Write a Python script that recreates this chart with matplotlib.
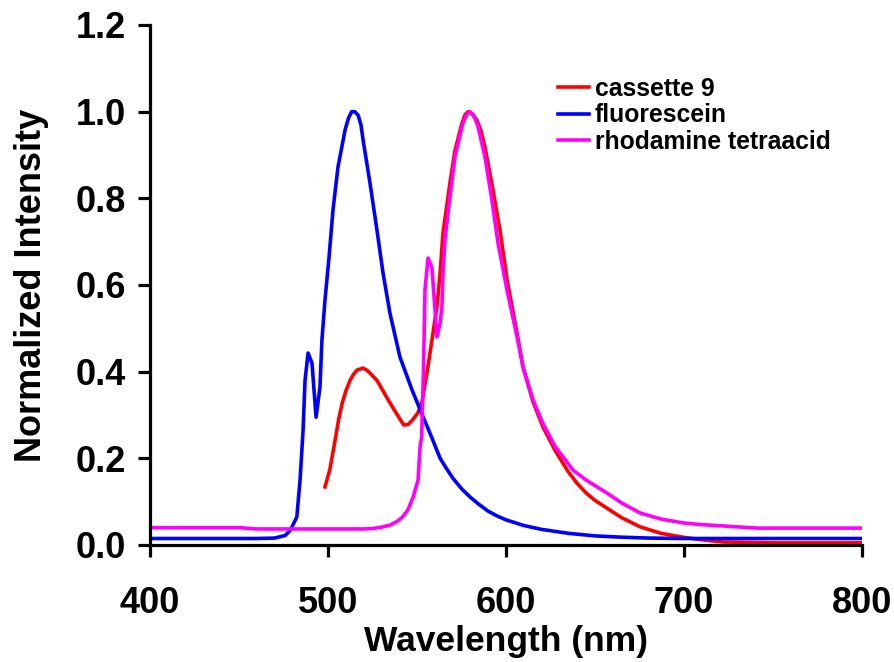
import matplotlib
matplotlib.use('Agg')
import matplotlib.pyplot as plt

# wavelengths (nm) and normalized intensities
fluor_wl = [400, 430, 460, 470, 476, 479, 482.5, 484.3, 486, 487.1, 488.8, 491,
            493.3, 495.5, 496.6, 498.3, 500.6, 502.8, 505.6, 509.6, 511.5, 513.3,
            515, 516.9, 518.5, 519.7, 523.6, 527.5, 530.9, 534.8, 540.4, 547.2,
            552, 558.4, 563, 566, 570, 575, 580, 585, 590, 595, 600, 610, 620,
            635, 650, 665, 680, 700, 750, 800]
fluor_int = [0.015, 0.015, 0.015, 0.016, 0.022, 0.035, 0.065, 0.15, 0.265, 0.38,
             0.443, 0.42, 0.295, 0.365, 0.473, 0.565, 0.665, 0.773, 0.872, 0.958,
             0.985, 1.0, 1.0, 0.992, 0.97, 0.935, 0.835, 0.727, 0.628, 0.535,
             0.434, 0.358, 0.31, 0.247, 0.2, 0.18, 0.155, 0.13, 0.11, 0.093,
             0.078, 0.067, 0.058, 0.045, 0.036, 0.027, 0.021, 0.018, 0.016,
             0.015, 0.015, 0.015]

cass_wl = [498.3, 501, 504, 506, 508, 510, 512.4, 514.5, 516.5, 519.7, 522,
           524.5, 527.5, 531, 534.8, 539, 542.5, 545, 547.8, 550.5, 552.8, 555.6,
           558.4, 561.2, 563, 564.6, 568.5, 571.3, 575.3, 577, 578.7, 581, 583.7,
           586, 588.2, 592.7, 596.6, 600.6, 606.2, 609.6, 615.2, 620.8, 627.5,
           634.8, 640, 645, 650, 656.7, 665, 675.3, 687, 699.4, 710, 722, 750, 800]
cass_int = [0.134, 0.173, 0.242, 0.29, 0.328, 0.355, 0.38, 0.395, 0.404, 0.408,
            0.403, 0.393, 0.38, 0.355, 0.328, 0.30, 0.277, 0.278, 0.29, 0.305,
            0.33, 0.397, 0.473, 0.55, 0.628, 0.72, 0.835, 0.91, 0.974, 0.993, 1.0,
            0.995, 0.98, 0.955, 0.918, 0.819, 0.727, 0.612, 0.489, 0.41, 0.33,
            0.272, 0.219, 0.17, 0.142, 0.12, 0.103, 0.085, 0.063, 0.042, 0.027,
            0.018, 0.012, 0.007, 0.005, 0.005]

rhod_wl = [400, 450, 460, 500, 520, 525, 530, 535, 539, 542, 545, 547.8, 550.6,
           551.7, 552.6, 553.6, 554.5, 556.2, 558.4, 560, 561.2, 563, 564, 564.6,
           565.7, 568.5, 571.3, 575.8, 578, 579.8, 582, 584.3, 588.2, 592.1,
           595.5, 600.6, 606.2, 609.6, 615.2, 620.8, 627.5, 637.6, 645, 650,
           656.7, 665, 675.3, 687, 699.4, 710, 722, 741, 800]
rhod_int = [0.04, 0.04, 0.037, 0.037, 0.037, 0.038, 0.041, 0.046, 0.055, 0.065,
            0.082, 0.11, 0.15, 0.226, 0.25, 0.397, 0.589, 0.662, 0.64, 0.55,
            0.48, 0.512, 0.55, 0.628, 0.704, 0.803, 0.895, 0.974, 0.993, 1.0,
            0.99, 0.965, 0.895, 0.796, 0.697, 0.588, 0.48, 0.41, 0.335, 0.28,
            0.228, 0.173, 0.15, 0.137, 0.12, 0.097, 0.074, 0.06, 0.051, 0.047,
            0.044, 0.039, 0.039]

x_ticks = [400, 500, 600, 700, 800]
y_ticks = [0.0, 0.2, 0.4, 0.6, 0.8, 1.0, 1.2]

plt.rcParams['font.family'] = ['Liberation Sans', 'DejaVu Sans']
plt.rcParams['font.weight'] = 'bold'

fig = plt.figure(figsize=(8.94, 6.62), dpi=100)
ax = fig.add_axes([150 / 894, 117 / 662, 712 / 894, 520 / 662])

ax.plot(cass_wl, cass_int, color='#ff0000', lw=2.6, label='cassette 9')
ax.plot(fluor_wl, fluor_int, color='#0000ff', lw=2.6, label='fluorescein')
ax.plot(rhod_wl, rhod_int, color='#ff00ff', lw=2.6, label='rhodamine tetraacid')

ax.set_xlim(400, 800)
ax.set_ylim(0, 1.2)
ax.set_xticks(x_ticks)
ax.set_yticks(y_ticks)
ax.set_yticklabels(['%.1f' % v for v in y_ticks])

for s in ['top', 'right']:
    ax.spines[s].set_visible(False)
for s in ['left', 'bottom']:
    ax.spines[s].set_linewidth(2.3)

ax.tick_params(axis='both', direction='out', width=2.3, length=8.5,
               labelsize=26)
ax.tick_params(axis='x', pad=21)
ax.tick_params(axis='y', pad=9)

ax.set_xlabel('Wavelength (nm)', fontsize=25.5, fontweight='bold', labelpad=3)
ax.set_ylabel('Normalized Intensity', fontsize=26, fontweight='bold', labelpad=19)

leg = ax.legend(loc='upper left', bbox_to_anchor=(558 / 894, 1 - 77 / 662),
                bbox_transform=fig.transFigure, frameon=False, fontsize=17.8,
                handlelength=1.25, handletextpad=0.25, labelspacing=0.1,
                borderpad=0, borderaxespad=0)
for t in leg.get_texts():
    t.set_fontweight('bold')

fig.savefig('out.png', dpi=100)
